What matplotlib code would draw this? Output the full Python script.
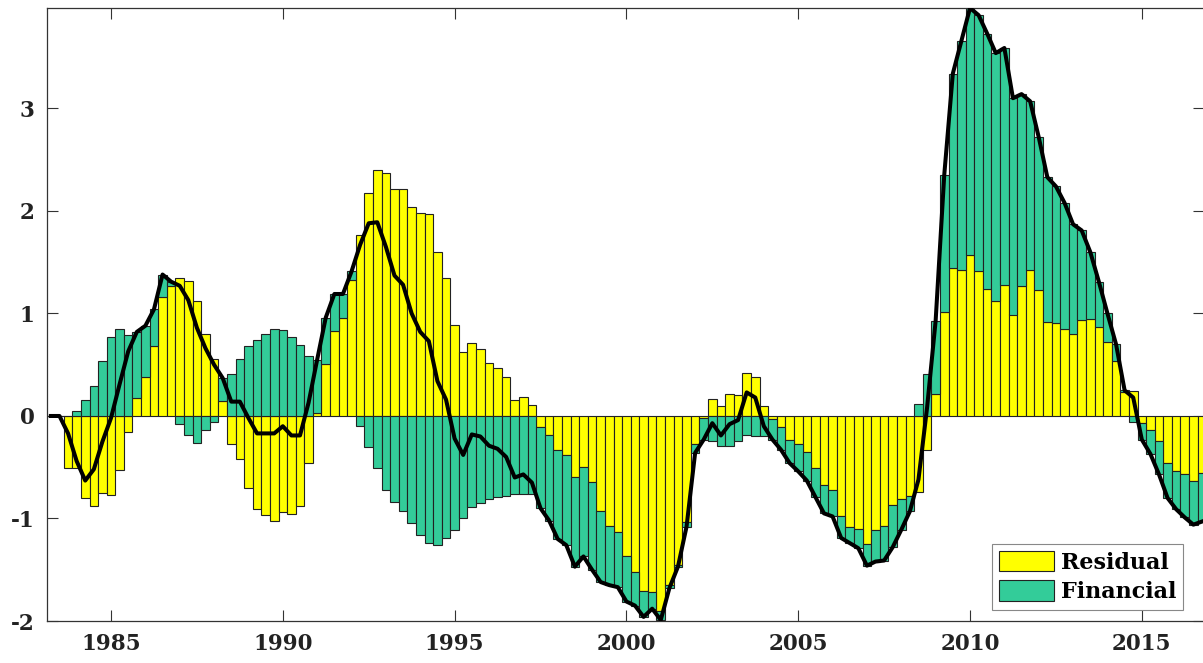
import numpy as np
import pandas as pd
import matplotlib
matplotlib.use("Agg")
import matplotlib.pyplot as plt

# quarterly contributions, 1983Q2 - 2016Q4
residual = [0.00, 0.00, -0.51,
            -0.51, -0.80, -0.88, -0.75,
            -0.77, -0.53, -0.16, 0.18,
            0.38, 0.68, 1.16, 1.27,
            1.35, 1.32, 1.12, 0.80,
            0.56, 0.15, -0.27, -0.42,
            -0.70, -0.91, -0.97, -1.02,
            -0.94, -0.96, -0.88, -0.46,
            0.03, 0.51, 0.83, 0.96,
            1.33, 1.77, 2.18, 2.40,
            2.37, 2.21, 2.21, 2.04,
            1.98, 1.97, 1.60, 1.35,
            0.89, 0.62, 0.71, 0.65,
            0.52, 0.47, 0.38, 0.16,
            0.19, 0.11, -0.11, -0.19,
            -0.33, -0.38, -0.60, -0.50,
            -0.64, -0.93, -1.07, -1.13,
            -1.37, -1.52, -1.71, -1.72,
            -1.90, -1.65, -1.45, -1.03,
            -0.27, -0.02, 0.17, 0.10,
            0.21, 0.20, 0.42, 0.38,
            0.10, -0.03, -0.11, -0.23,
            -0.27, -0.35, -0.51, -0.67,
            -0.72, -0.98, -1.08, -1.10,
            -1.25, -1.11, -1.07, -0.87,
            -0.81, -0.78, -0.74, -0.33,
            0.21, 1.01, 1.44, 1.42,
            1.57, 1.41, 1.24, 1.12,
            1.28, 0.99, 1.27, 1.42,
            1.23, 0.92, 0.91, 0.85,
            0.80, 0.94, 0.95, 0.87,
            0.72, 0.54, 0.23, 0.24,
            -0.07, -0.14, -0.24, -0.46,
            -0.54, -0.57, -0.63, -0.56]

financial = [0.00, 0.00, 0.00,
             0.05, 0.16, 0.29, 0.54,
             0.77, 0.85, 0.79, 0.64,
             0.50, 0.36, 0.22, 0.04,
             -0.08, -0.19, -0.26, -0.14,
             -0.06, 0.22, 0.41, 0.56,
             0.68, 0.74, 0.80, 0.85,
             0.84, 0.77, 0.69, 0.59,
             0.52, 0.45, 0.36, 0.23,
             0.08, -0.10, -0.30, -0.51,
             -0.72, -0.84, -0.93, -1.04,
             -1.16, -1.24, -1.26, -1.19,
             -1.11, -1.00, -0.89, -0.85,
             -0.81, -0.79, -0.78, -0.76,
             -0.76, -0.76, -0.79, -0.83,
             -0.87, -0.88, -0.87, -0.87,
             -0.86, -0.69, -0.58, -0.54,
             -0.44, -0.33, -0.25, -0.16,
             -0.09, -0.03, -0.02, -0.05,
             -0.09, -0.21, -0.24, -0.29,
             -0.29, -0.24, -0.19, -0.20,
             -0.20, -0.20, -0.22, -0.23,
             -0.27, -0.28, -0.28, -0.28,
             -0.26, -0.21, -0.16, -0.19,
             -0.21, -0.31, -0.34, -0.41,
             -0.30, -0.15, 0.12, 0.41,
             0.72, 1.34, 1.90, 2.24,
             2.41, 2.50, 2.49, 2.42,
             2.31, 2.11, 1.87, 1.65,
             1.49, 1.41, 1.33, 1.23,
             1.07, 0.87, 0.65, 0.44,
             0.28, 0.16, 0.02, -0.06,
             -0.16, -0.23, -0.33, -0.34,
             -0.37, -0.42, -0.43, -0.47]

# black line (total deviation)
total = [0.00, 0.00, -0.17,
         -0.44, -0.63, -0.52, -0.25,
         -0.02, 0.31, 0.63, 0.82,
         0.88, 1.04, 1.38, 1.31,
         1.27, 1.13, 0.86, 0.66,
         0.50, 0.37, 0.14, 0.14,
         -0.02, -0.17, -0.17, -0.17,
         -0.10, -0.19, -0.19, 0.13,
         0.55, 0.96, 1.19, 1.19,
         1.41, 1.67, 1.88, 1.89,
         1.65, 1.37, 1.28, 1.00,
         0.82, 0.73, 0.34, 0.16,
         -0.22, -0.38, -0.18, -0.20,
         -0.29, -0.32, -0.40, -0.60,
         -0.57, -0.65, -0.90, -1.02,
         -1.20, -1.26, -1.47, -1.37,
         -1.50, -1.62, -1.65, -1.67,
         -1.81, -1.85, -1.96, -1.88,
         -1.99, -1.68, -1.47, -1.08,
         -0.36, -0.23, -0.07, -0.19,
         -0.08, -0.04, 0.23, 0.18,
         -0.10, -0.23, -0.33, -0.46,
         -0.54, -0.63, -0.79, -0.95,
         -0.98, -1.19, -1.24, -1.29,
         -1.46, -1.42, -1.41, -1.28,
         -1.11, -0.93, -0.62, 0.08,
         0.93, 2.35, 3.34, 3.66,
         3.98, 3.91, 3.73, 3.54,
         3.59, 3.10, 3.14, 3.07,
         2.72, 2.33, 2.24, 2.08,
         1.87, 1.81, 1.60, 1.31,
         1.00, 0.70, 0.25, 0.18,
         -0.23, -0.37, -0.57, -0.80,
         -0.91, -0.99, -1.06, -1.03]

quarters = pd.period_range("1983Q2", "2016Q4", freq="Q")
year_ticks = [1985, 1990, 1995, 2000, 2005, 2010, 2015]
y_ticks = [-2, -1, 0, 1, 2, 3]

t = quarters.year + (quarters.quarter - 1) / 4.0
res = np.array(residual)
fin = np.array(financial)

plt.rcParams['font.family'] = 'DejaVu Serif'
plt.rcParams['font.weight'] = 'bold'
plt.rcParams['axes.unicode_minus'] = False

fig = plt.figure(figsize=(12.03, 6.63), dpi=100)
ax = fig.add_axes([47/1203, 42/663, 1157/1203, 613/663])

# stacked bars: residual next to zero, financial stacked beyond it (same sign)
fin_base = np.where(np.sign(fin) == np.sign(res), res, 0.0)
ax.bar(t, res, width=0.25, color='#FFFF00', edgecolor='#222222', linewidth=0.8,
       label='Residual', zorder=2)
ax.bar(t, fin, width=0.25, bottom=fin_base, color='#33CC99', edgecolor='#222222',
       linewidth=0.8, label='Financial', zorder=2)
ax.plot(t, total, color='black', linewidth=2.9, zorder=3)

ax.set_xlim(1983.137, 2016.81)
ax.set_ylim(-2, 3.98)
ax.set_xticks(year_ticks)
ax.set_yticks(y_ticks)
ax.tick_params(direction='in', length=8, width=0.8, top=True, right=True,
               labelsize=15.5, color='#333333')
ax.tick_params(axis='x', pad=9)
ax.tick_params(axis='y', pad=9)
for s in ax.spines.values():
    s.set_color('#333333')
    s.set_linewidth(0.9)
for lab in ax.get_xticklabels() + ax.get_yticklabels():
    lab.set_fontweight('bold')
    lab.set_color('#222222')

leg = ax.legend(loc='lower right', bbox_to_anchor=(0.982, 0.018), borderaxespad=0,
                fontsize=16, handlelength=2.5, handleheight=1.05, handletextpad=0.3,
                borderpad=0.3, labelspacing=0.3, fancybox=False, framealpha=1)
leg.get_frame().set_edgecolor('#888888')
leg.get_frame().set_linewidth(0.8)
for txt in leg.get_texts():
    txt.set_fontweight('bold')

fig.savefig('out.png', dpi=100)
